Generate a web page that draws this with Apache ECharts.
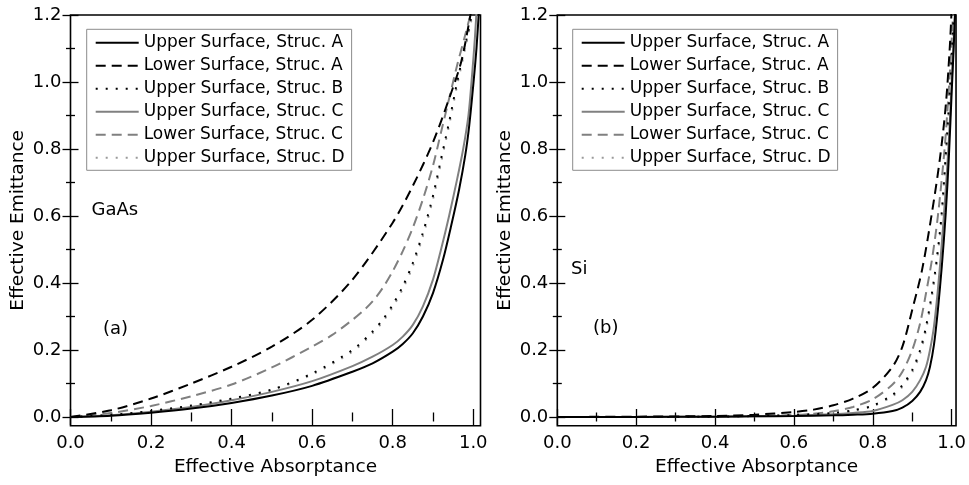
<!DOCTYPE html>
<html><head><meta charset="utf-8">
<script src="https://cdn.jsdelivr.net/npm/echarts@6/dist/echarts.min.js"></script>
<style>html,body{margin:0;padding:0;background:#fff}#c{width:969px;height:485px}</style>
</head><body><div id="c"></div>
<script>
const seriesNames = ['Upper Surface, Struc. A','Lower Surface, Struc. A','Upper Surface, Struc. B','Upper Surface, Struc. C','Lower Surface, Struc. C','Upper Surface, Struc. D'];

// ---- GaAs panel (a) ----
const gaasX_upperA = [0,0.1,0.2,0.3,0.4,0.5,0.6,0.7,0.75,0.8,0.825,0.85,0.875,0.9,0.925,0.945,0.965,0.98,0.99,1.0,1.008,1.015];
const gaasY_upperA = [0,0.004,0.013,0.025,0.042,0.064,0.093,0.135,0.16,0.195,0.218,0.25,0.3,0.37,0.47,0.57,0.68,0.78,0.87,0.99,1.1,1.23];
const gaasX_lowerA = [0,0.1,0.2,0.3,0.4,0.5,0.6,0.7,0.8,0.85,0.9,0.94,0.97,0.99,1.0];
const gaasY_lowerA = [0,0.02,0.055,0.1,0.15,0.21,0.29,0.41,0.58,0.69,0.82,0.95,1.06,1.18,1.25];
const gaasX_upperB = [0,0.1,0.2,0.3,0.4,0.5,0.6,0.7,0.75,0.775,0.8,0.825,0.85,0.875,0.9,0.92,0.94,0.96,0.98,1.0];
const gaasY_upperB = [0,0.006,0.018,0.034,0.055,0.082,0.13,0.2,0.255,0.29,0.335,0.39,0.46,0.55,0.66,0.77,0.88,1.0,1.11,1.22];
const gaasX_upperC = [0,0.1,0.2,0.3,0.4,0.5,0.6,0.7,0.75,0.8,0.825,0.85,0.875,0.9,0.92,0.94,0.96,0.975,0.988,0.997,1.004,1.01];
const gaasY_upperC = [0,0.005,0.016,0.03,0.05,0.075,0.107,0.152,0.18,0.215,0.24,0.275,0.33,0.41,0.5,0.6,0.71,0.8,0.9,1.02,1.13,1.25];
const gaasX_lowerC = [0,0.1,0.2,0.3,0.4,0.5,0.6,0.65,0.7,0.725,0.75,0.775,0.8,0.825,0.85,0.875,0.9,0.92,0.94,0.96,0.98,0.997];
const gaasY_lowerC = [0,0.012,0.033,0.062,0.097,0.148,0.21,0.245,0.29,0.315,0.345,0.385,0.435,0.495,0.565,0.65,0.75,0.85,0.95,1.05,1.14,1.22];
const gaasX_upperD = [0,0.1,0.2,0.3,0.4,0.5,0.6,0.7,0.75,0.775,0.8,0.825,0.85,0.875,0.9,0.92,0.94,0.96,0.98,1.0];
const gaasY_upperD = [0,0.006,0.017,0.033,0.053,0.08,0.127,0.195,0.25,0.284,0.328,0.382,0.45,0.54,0.65,0.76,0.87,0.99,1.1,1.21];

// ---- Si panel (b) ----
const siX_upperA = [0,0.2,0.4,0.5,0.6,0.7,0.75,0.8,0.85,0.875,0.9,0.92,0.935,0.945,0.955,0.965,0.975,0.985,0.993,1.0,1.005,1.011];
const siY_upperA = [0,0,0.001,0.002,0.003,0.005,0.007,0.01,0.018,0.028,0.048,0.075,0.11,0.15,0.215,0.32,0.45,0.61,0.78,0.97,1.1,1.27];
const siX_lowerA = [0,0.2,0.4,0.5,0.6,0.65,0.7,0.75,0.8,0.85,0.875,0.9,0.925,0.95,0.97,0.985,0.995,1.0];
const siY_lowerA = [0,0.001,0.003,0.007,0.015,0.022,0.035,0.055,0.087,0.15,0.21,0.32,0.44,0.61,0.77,0.93,1.1,1.22];
const siX_upperB = [0,0.2,0.4,0.5,0.6,0.7,0.75,0.8,0.85,0.875,0.9,0.92,0.935,0.95,0.962,0.974,0.986,0.994,1.0,1.006];
const siY_upperB = [0,0,0.001,0.003,0.006,0.012,0.02,0.034,0.066,0.095,0.14,0.2,0.27,0.37,0.47,0.6,0.8,0.95,1.08,1.22];
const siX_upperC = [0,0.2,0.4,0.5,0.6,0.7,0.75,0.8,0.85,0.875,0.9,0.92,0.935,0.945,0.955,0.965,0.975,0.985,0.993,1.0,1.006,1.01];
const siY_upperC = [0,0,0.001,0.002,0.004,0.008,0.012,0.018,0.036,0.05,0.075,0.11,0.15,0.2,0.27,0.38,0.52,0.68,0.83,1.0,1.15,1.26];
const siX_lowerC = [0,0.2,0.4,0.5,0.6,0.65,0.7,0.75,0.8,0.85,0.875,0.9,0.92,0.935,0.95,0.965,0.982,0.99,0.998,1.004];
const siY_lowerC = [0,0,0.001,0.003,0.006,0.01,0.017,0.03,0.053,0.097,0.135,0.2,0.28,0.37,0.47,0.6,0.8,0.93,1.08,1.22];
const siX_upperD = [0,0.2,0.4,0.5,0.6,0.7,0.75,0.8,0.85,0.875,0.9,0.92,0.935,0.95,0.962,0.974,0.986,0.994,1.0,1.006];
const siY_upperD = [0,0,0.001,0.003,0.006,0.011,0.019,0.032,0.062,0.09,0.133,0.19,0.26,0.36,0.46,0.59,0.79,0.94,1.07,1.21];

const xMajor = [0,0.2,0.4,0.6,0.8,1.0];
const xMinor = [0.1,0.3,0.5,0.7,0.9];
const yMajor = [0,0.2,0.4,0.6,0.8,1.0,1.2];
const yMinor = [0.1,0.3,0.5,0.7,0.9,1.1];

const FONT = 'DejaVu Sans';
const grids = [
  {left:70.5, top:15, width:410, height:410.7},
  {left:557.3, top:15, width:409.4, height:410.7}
];
const xMax = [1.018, 1.011];
const yMin = -0.026, yMax = 1.2;

function zip(xs, ys){ return xs.map((x,i)=>[x, ys[i]]); }

const xAxis = [], yAxis = [];
grids.forEach((g, gi) => {
  const tickStyle = {color:'#000', width:1.3};
  const base = {type:'value', gridIndex:gi, min:0, max:xMax[gi], axisLine:{show:false}, splitLine:{show:false}};
  xAxis.push(Object.assign({}, base, {position:'bottom',
    axisTick:{show:true, inside:true, length:8, customValues:xMajor, lineStyle:tickStyle},
    axisLabel:{show:true, customValues:xMajor, formatter:v=>v.toFixed(1), margin:9, color:'#000', fontSize:18, fontFamily:FONT},
    name:'Effective Absorptance', nameLocation:'middle', nameGap:32,
    nameTextStyle:{color:'#000', fontSize:18.5, fontFamily:FONT}}));
  xAxis.push(Object.assign({}, base, {position:'bottom',
    axisTick:{show:true, inside:true, length:4.5, customValues:xMinor, lineStyle:tickStyle}, axisLabel:{show:false}}));
  xAxis.push(Object.assign({}, base, {position:'top',
    axisTick:{show:true, inside:true, length:8, customValues:xMajor, lineStyle:tickStyle}, axisLabel:{show:false}}));
  xAxis.push(Object.assign({}, base, {position:'top',
    axisTick:{show:true, inside:true, length:4.5, customValues:xMinor, lineStyle:tickStyle}, axisLabel:{show:false}}));
  const ybase = {type:'value', gridIndex:gi, min:yMin, max:yMax, axisLine:{show:false}, splitLine:{show:false}};
  yAxis.push(Object.assign({}, ybase, {position:'left',
    axisTick:{show:true, inside:true, length:8, customValues:yMajor, lineStyle:tickStyle},
    axisLabel:{show:true, customValues:yMajor, formatter:v=>v.toFixed(1), margin:9, color:'#000', fontSize:18, fontFamily:FONT},
    name:'Effective Emittance', nameLocation:'middle', nameGap:43,
    nameTextStyle:{color:'#000', fontSize:18.5, fontFamily:FONT}}));
  yAxis.push(Object.assign({}, ybase, {position:'left',
    axisTick:{show:true, inside:true, length:4.5, customValues:yMinor, lineStyle:tickStyle}, axisLabel:{show:false}}));
  yAxis.push(Object.assign({}, ybase, {position:'right',
    axisTick:{show:true, inside:true, length:8, customValues:yMajor, lineStyle:tickStyle}, axisLabel:{show:false}}));
  yAxis.push(Object.assign({}, ybase, {position:'right',
    axisTick:{show:true, inside:true, length:4.5, customValues:yMinor, lineStyle:tickStyle}, axisLabel:{show:false}}));
});

const styles = [
  {color:'#000000', type:'solid', width:2},
  {color:'#000000', type:[10,6], width:2},
  {color:'#000000', type:[2,8], width:2},
  {color:'#808080', type:'solid', width:2},
  {color:'#808080', type:[10,6], width:2},
  {color:'#9a9a9a', type:[2,8], width:2}
];
const panelData = [
  [zip(gaasX_upperA,gaasY_upperA), zip(gaasX_lowerA,gaasY_lowerA), zip(gaasX_upperB,gaasY_upperB), zip(gaasX_upperC,gaasY_upperC), zip(gaasX_lowerC,gaasY_lowerC), zip(gaasX_upperD,gaasY_upperD)],
  [zip(siX_upperA,siY_upperA), zip(siX_lowerA,siY_lowerA), zip(siX_upperB,siY_upperB), zip(siX_upperC,siY_upperC), zip(siX_lowerC,siY_lowerC), zip(siX_upperD,siY_upperD)]
];
const drawOrder = [5,4,3,2,1,0];
const series = [];
panelData.forEach((arr, gi) => {
  drawOrder.forEach(si => {
    series.push({type:'line', name:seriesNames[si], xAxisIndex:gi*4, yAxisIndex:gi*4,
      data:arr[si], showSymbol:false, symbol:'none', smooth:0.3, clip:true,
      lineStyle:Object.assign({}, styles[si]), itemStyle:{color:styles[si].color}, silent:true, animation:false, z:3});
  });
});

const legendBase = {orient:'vertical', itemWidth:43, itemHeight:14, itemGap:6, itemTextGap:7,
  borderColor:'#8c8c8c', borderWidth:1, padding:[5,7,4,8], backgroundColor:'#fff', selectedMode:false,
  itemStyle:{opacity:0},
  textStyle:{color:'#000', fontSize:17, fontFamily:FONT, lineHeight:17}, data:seriesNames, z:5};
const legend = [
  Object.assign({}, legendBase, {left:86.7, top:29.3}),
  Object.assign({}, legendBase, {left:572.7, top:29.3})
];

const graphic = [
  {type:'text', left:91.5, top:201, style:{text:'GaAs', font:'18px "DejaVu Sans"', fill:'#000'}},
  {type:'text', left:103, top:320, style:{text:'(a)', font:'18px "DejaVu Sans"', fill:'#000'}},
  {type:'text', left:571, top:260, style:{text:'Si', font:'18px "DejaVu Sans"', fill:'#000'}},
  {type:'text', left:593, top:319, style:{text:'(b)', font:'18px "DejaVu Sans"', fill:'#000'}}
];

const chart = echarts.init(document.getElementById('c'), null, {renderer:'canvas'});
chart.setOption({
  animation:false,
  backgroundColor:'#fff',
  grid: grids.map(g => Object.assign({show:true, borderColor:'#000', borderWidth:1.6, backgroundColor:'transparent'}, g)),
  xAxis, yAxis, series, legend, graphic
});
</script></body></html>
